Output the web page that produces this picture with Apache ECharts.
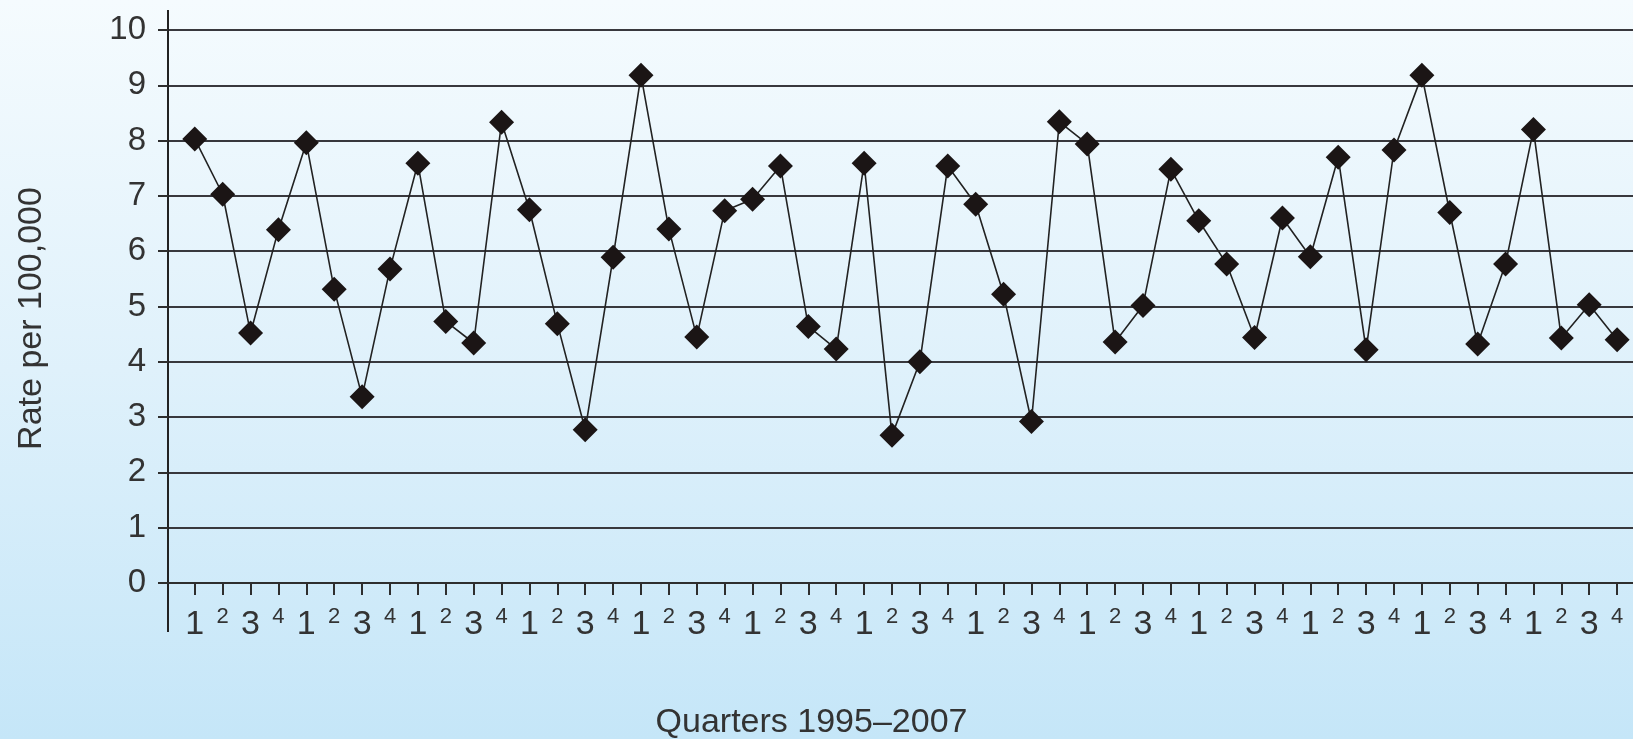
<!DOCTYPE html>
<html>
<head>
<meta charset="utf-8">
<script src="https://cdn.jsdelivr.net/npm/echarts@6/dist/echarts.min.js"></script>
<style>
html,body{margin:0;padding:0;background:#fff;}
#c{width:1633px;height:739px;}
</style>
</head>
<body>
<div id="c"></div>
<script>
// ---- data ----
const years = [1995, 1996, 1997, 1998, 1999, 2000, 2001, 2002, 2003, 2004, 2005, 2006, 2007];
const quarterLabels = ['1', '2', '3', '4'];
const rates = [
  8.03, 7.03, 4.52, 6.39, 7.96, 5.31, 3.37, 5.68, 7.59, 4.73,
  4.34, 8.33, 6.75, 4.69, 2.77, 5.89, 9.18, 6.40, 4.45, 6.73,
  6.94, 7.54, 4.64, 4.23, 7.59, 2.67, 4.00, 7.54, 6.85, 5.22,
  2.92, 8.34, 7.94, 4.36, 5.02, 7.48, 6.55, 5.77, 4.44, 6.60,
  5.90, 7.70, 4.22, 7.83, 9.18, 6.70, 4.32, 5.77, 8.20, 4.43,
  5.03, 4.40
];
const yTickValues = [0, 1, 2, 3, 4, 5, 6, 7, 8, 9, 10];
const xTitle = 'Quarters 1995\u20132007';
const yTitle = 'Rate per 100,000';

// ---- build ----
const categories = [];
years.forEach(function () { quarterLabels.forEach(function (q) { categories.push(q); }); });
const positions = categories.map(function (_, i) { return i; });
const points = rates.map(function (v, i) { return [i, v]; });

const FONT = '"Liberation Sans", Arial, sans-serif';
const TEXT = '#333333';
const X_MIN = -0.96, X_MAX = 51.57;

const chart = echarts.init(document.getElementById('c'), null, { renderer: 'canvas' });

const option = {
  animation: false,
  backgroundColor: {
    type: 'linear', x: 0, y: 0, x2: 0, y2: 1,
    colorStops: [
      { offset: 0, color: '#f5fbfe' },
      { offset: 0.5, color: '#dff1fb' },
      { offset: 1, color: '#c5e6f8' }
    ]
  },
  grid: { left: 168, right: 0, top: 30, bottom: 156, containLabel: false },
  xAxis: {
    type: 'value',
    min: X_MIN,
    max: X_MAX,
    splitLine: { show: false },
    axisLine: { show: true, onZero: false, lineStyle: { color: '#2e2e2e', width: 2 } },
    axisTick: { show: true, customValues: positions, length: 12, lineStyle: { color: '#2e2e2e', width: 2 } },
    axisLabel: {
      show: true,
      customValues: positions,
      margin: 25,
      hideOverlap: false,
      color: TEXT,
      fontFamily: FONT,
      formatter: function (v) {
        const q = categories[Math.round(v)];
        if (q === undefined) return '';
        return (q === '1' || q === '3') ? '{b|' + q + '}' : '{s|' + q + '}';
      },
      rich: {
        b: { fontFamily: FONT, fontSize: 34, lineHeight: 34, color: TEXT },
        s: { fontFamily: FONT, fontSize: 22, lineHeight: 18, color: TEXT }
      }
    }
  },
  yAxis: {
    type: 'value',
    min: 0,
    max: 10,
    interval: 1,
    axisLine: { show: true, onZero: false, lineStyle: { color: '#222', width: 2 } },
    axisTick: { show: true, length: 10, lineStyle: { color: '#2e2e2e', width: 2 } },
    axisLabel: {
      fontFamily: FONT, fontSize: 33, color: TEXT, margin: 22,
      formatter: function (v) { return yTickValues.indexOf(v) >= 0 ? String(v) : ''; }
    },
    splitLine: { show: true, lineStyle: { color: '#38383d', width: 2 } }
  },
  series: [{
    type: 'line',
    data: points,
    symbol: 'diamond',
    symbolSize: 25,
    showSymbol: true,
    showAllSymbol: true,
    itemStyle: { color: '#1b1515' },
    lineStyle: { color: '#222', width: 1.6 },
    z: 3
  }]
};

chart.setOption(option);

const yTopPx = chart.convertToPixel({ yAxisIndex: 0 }, 10);
const yBotPx = chart.convertToPixel({ yAxisIndex: 0 }, 0);
const xAxisPx = chart.convertToPixel({ xAxisIndex: 0 }, X_MIN);

chart.setOption({
  graphic: [
    { type: 'line', shape: { x1: xAxisPx, y1: yTopPx - 20, x2: xAxisPx, y2: yTopPx }, style: { stroke: '#222', lineWidth: 2 } },
    { type: 'line', shape: { x1: xAxisPx, y1: yBotPx, x2: xAxisPx, y2: yBotPx + 49 }, style: { stroke: '#222', lineWidth: 2 } },
    {
      type: 'text', x: 31.5, y: 318.5, rotation: Math.PI / 2,
      style: { text: yTitle, fontFamily: FONT, fontSize: 34, fill: TEXT, align: 'center', verticalAlign: 'middle' }
    },
    {
      type: 'text', x: 811.5, y: 722.5,
      style: { text: xTitle, fontFamily: FONT, fontSize: 34, fill: TEXT, align: 'center', verticalAlign: 'middle' }
    }
  ]
});
</script>
</body>
</html>
